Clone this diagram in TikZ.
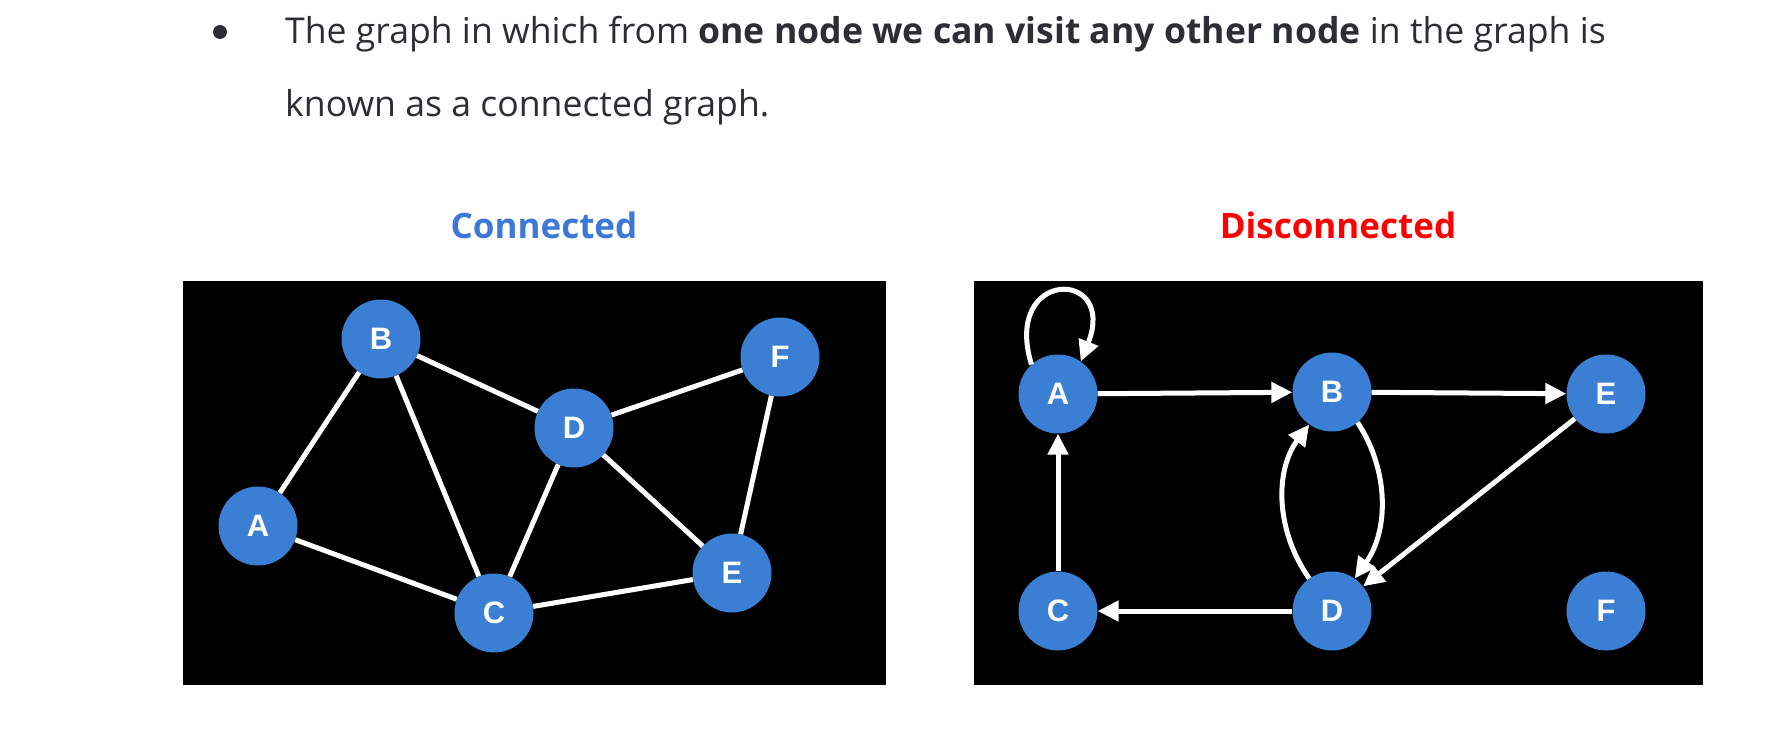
\documentclass[tikz,border=0pt]{standalone}
\usepackage{fontspec}
\setmainfont{Open Sans}
\newfontfamily\lblfont{Liberation Sans}
\usetikzlibrary{arrows.meta}

\definecolor{nodeblue}{HTML}{3A7FD3}
\definecolor{titleblue}{HTML}{3C78D8}
\definecolor{textgray}{HTML}{2B2F33}

\newcommand{\dims}{
\def\rad{79pt}   % node diameter
\def\lw{5pt}     % edge width
}

\tikzset{
  gnode/.style={circle, fill=nodeblue, minimum size=\rad, inner sep=0pt,
    text=white, font=\lblfont\bfseries\fontsize{31}{31}\selectfont},
  gedge/.style={draw=white, line width=\lw},
  garc/.style={gedge, -{Triangle[length=21pt,width=20pt]}},
  bodytext/.style={anchor=base west, inner sep=0pt, text=textgray,
    font=\fontsize{35.6}{36}\selectfont},
  title/.style={anchor=base, inner sep=0pt, font=\bfseries\fontsize{35}{35}\selectfont},
}

\begin{document}
\begin{tikzpicture}[x=1pt,y=-1pt]
  \dims
  \useasboundingbox (0,0) rectangle (1790,738);
  \fill[white] (0,0) rectangle (1790,738);
%
  \fill[textgray] (220,32) circle (7);
  \node[bodytext] (line1) at (285,44)
    {The graph in which from \textbf{one node we can visit any other node} in the graph is};
  \node[bodytext] (line2) at (285,117) {known as a connected graph.};
  \node[title, text=titleblue] (ttlA) at (544,238) {Connected};
  \node[title, text=red] (ttlB) at (1338,238) {Disconnected};
%
  % connected graph
  \fill[black] (183,281) rectangle (886,685);
  \node[gnode] (lB) at (381,339) {B};
  \node[gnode] (lF) at (780,357) {F};
  \node[gnode] (lD) at (574,428) {D};
  \node[gnode] (lA) at (258,526) {A};
  \node[gnode] (lE) at (732,573) {E};
  \node[gnode] (lC) at (494,613) {C};
  \draw[gedge] (lA) -- (lB);
  \draw[gedge] (lA) -- (lC);
  \draw[gedge] (lB) -- (lC);
  \draw[gedge] (lB) -- (lD);
  \draw[gedge] (lD) -- (lC);
  \draw[gedge] (lD) -- (lF);
  \draw[gedge] (lD) -- (lE);
  \draw[gedge] (lF) -- (lE);
  \draw[gedge] (lC) -- (lE);
%
  % disconnected graph
  \fill[black] (974,281) rectangle (1703,685);
  \node[gnode] (rA) at (1058,394) {A};
  \node[gnode] (rB) at (1332,392) {B};
  \node[gnode] (rE) at (1606,394) {E};
  \node[gnode] (rC) at (1058,611) {C};
  \node[gnode] (rD) at (1332,611) {D};
  \node[gnode] (rF) at (1606,611) {F};
  \draw[garc] (rA.132) .. controls (1002,268) and (1118,268) .. (rA.55);
  \draw[garc] (rA) -- (rB);
  \draw[garc] (rB) -- (rE);
  \draw[garc] (rC) -- (rA);
  \draw[garc] (rD) -- (rC);
  \draw[garc] (rE) -- (rD);
  \draw[garc] (rB.-50) .. controls (1389,470) and (1389,530) .. (rD.55);
  \draw[garc] (rD.125) .. controls (1275,530) and (1275,470) .. (rB.-125);
\end{tikzpicture}
\end{document}
